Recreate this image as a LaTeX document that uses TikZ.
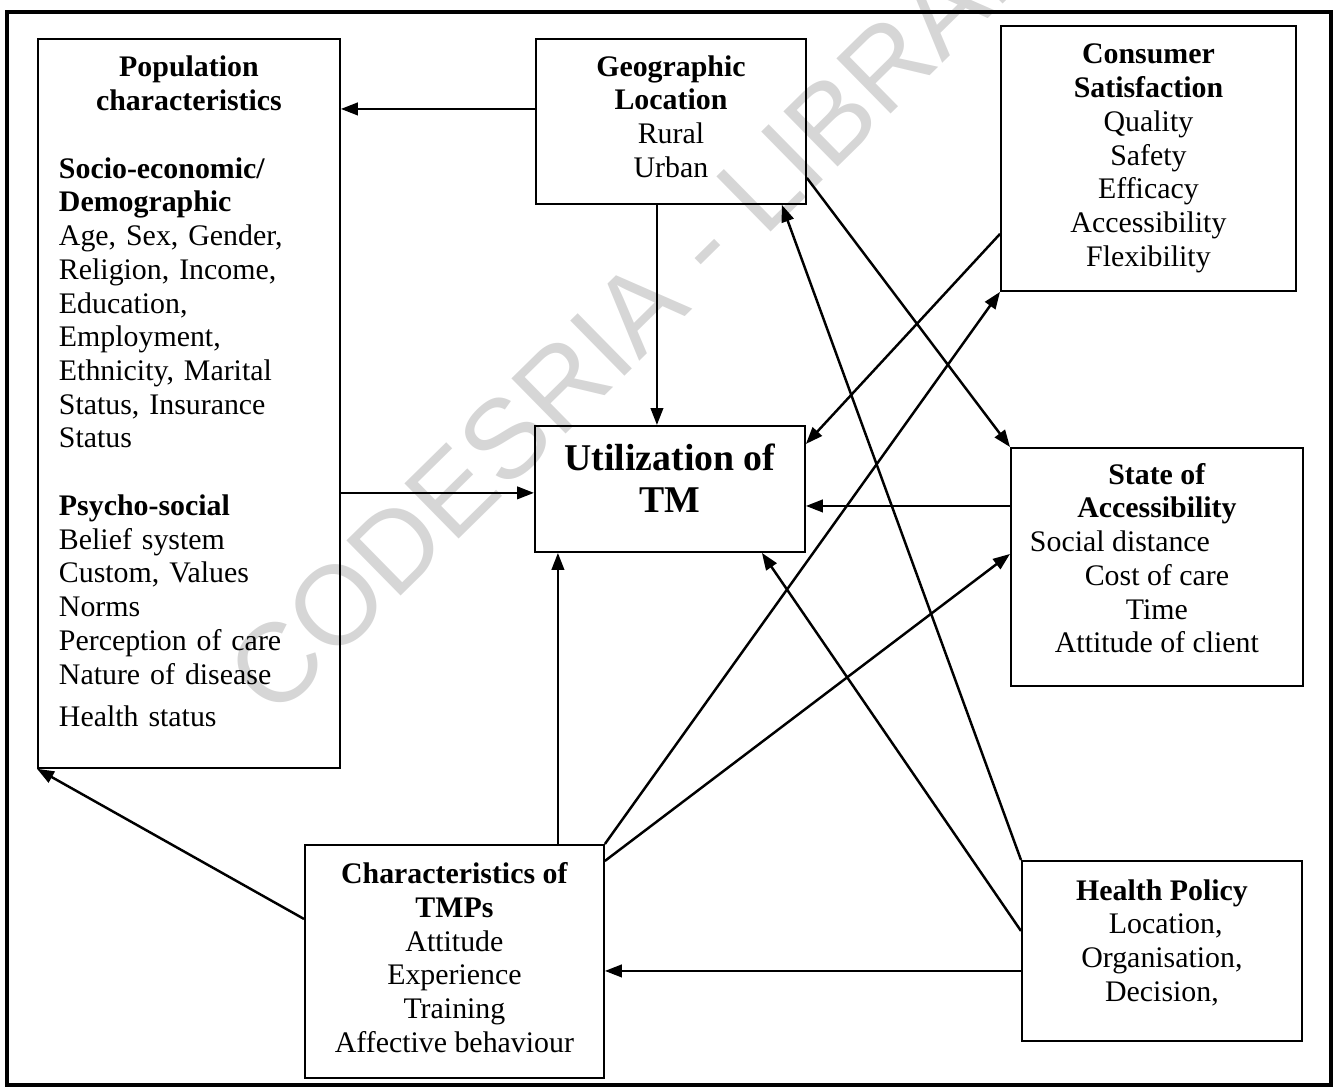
\documentclass[tikz,border=0pt]{standalone}
\usepackage{fontspec}
\setmainfont{Liberation Serif}
\newfontfamily\wmfont{Liberation Sans}
\usetikzlibrary{arrows.meta,calc}

% 最后一行下面的空白
\newcommand{\dpad}[1]{\rule[-#1]{0pt}{#1}}

\tikzset{
  cbox/.style={draw, line width=1.1pt, inner sep=0pt, anchor=north west,
    align=center, font=\fontsize{17}{19.2}\selectfont},
  link/.style={line width=1.4pt, -{Triangle[length=0.34cm,width=0.25cm]}}
}

\begin{document}
\begin{tikzpicture}[x=0.02cm, y=-0.02cm]
       \useasboundingbox (0,0) rectangle (1340,1088);
       % 水印
       \begin{scope}
         \clip (0,0) rectangle (1340,1088);
         \node (mark) [rotate=44.5, text=black!16, font=\wmfont\fontsize{64}{64}\selectfont]
           at (663,284) {CODESRIA - LIBRARY};
       \end{scope}
       % 外框
       \draw [line width=2.6pt] (7,12) rectangle (1331,1085);

       % 七个方框
       \node (pop) [cbox, align=left, text width=5.2cm, inner xsep=0.42cm,
         minimum width=6.04cm, minimum height=14.58cm] at (37,38)
         {\makebox[\hsize]{\bfseries Population}\\
          \makebox[\hsize]{\bfseries characteristics}\\[19.2pt]
          \textbf{Socio-economic/}\\
          \textbf{Demographic}\\
          Age, Sex, Gender,\\
          Religion, Income,\\
          Education,\\
          Employment,\\
          Ethnicity, Marital\\
          Status, Insurance\\
          Status\\[19.2pt]
          \textbf{Psycho-social}\\
          Belief system\\
          Custom, Values\\
          Norms\\
          Perception of care\\
          Nature of disease\\[5pt]
          Health status\dpad{0.48cm}};
       \node (geo) [cbox, minimum width=5.4cm, minimum height=3.3cm] at (535,38)
         {\textbf{Geographic}\\ \textbf{Location}\\ Rural\\ Urban\dpad{0.2cm}};
       \node (cons) [cbox, minimum width=5.9cm, minimum height=5.3cm] at (1000,25)
         {\textbf{Consumer}\\ \textbf{Satisfaction}\\ Quality\\ Safety\\ Efficacy\\
          Accessibility\\ Flexibility};
       \node (util) [cbox, minimum width=5.4cm, minimum height=2.52cm,
         font=\bfseries\fontsize{21.5}{24}\selectfont] at (534,425)
         {Utilization of\\ TM\dpad{0.44cm}};
       \node (acc) [cbox, minimum width=5.84cm, minimum height=4.76cm] at (1010,447)
         {\textbf{State of}\\ \textbf{Accessibility}\\ \mbox{Social distance\hspace{1.48cm}}\\
          Cost of care\\ Time\\ Attitude of client\dpad{0.36cm}};
       \node (tmp) [cbox, minimum width=5.98cm, minimum height=4.66cm] at (304,844)
         {\textbf{Characteristics of}\\ \textbf{TMPs}\\ Attitude\\ Experience\\
          Training\\ Affective behaviour\dpad{0.16cm}};
       \node (pol) [cbox, minimum width=5.6cm, minimum height=3.6cm] at (1021,860)
         {\textbf{Health Policy}\\ \hspace{0.15cm}Location,\\ Organisation,\\ Decision,\dpad{0.42cm}};

       % 箭头
       \draw [link] ([yshift=0.25cm]geo.west) -- ([yshift=0.25cm]geo.west -| pop.east);
       \draw [link] ([xshift=-0.28cm]geo.south) -- ([xshift=-0.28cm]geo.south |- util.north);
       \draw [link] ([yshift=-1.13cm]geo.east) -- (acc.north west);
       \draw [link] ([yshift=-1.51cm]cons.west) -- ([yshift=0.9cm]util.east);
       \draw [link] ([yshift=1.22cm]acc.west) -- ([yshift=1.22cm]acc.west -| util.east);
       \draw [link] ([yshift=-1.79cm]pop.east) -- ([yshift=-1.79cm]pop.east -| util.west);
       % 从TMPs出发
       \draw [link] ([xshift=2.07cm]tmp.north) -- ([xshift=2.07cm]tmp.north |- util.south);
       \draw [link] ([yshift=0.85cm]tmp.west) -- (pop.south west);
       \draw [link] (tmp.north east) -- (cons.south west);
       \draw [link] ([yshift=2.01cm]tmp.east) -- ([yshift=0.26cm]acc.west);
       % 从Health Policy出发
       \draw [link] ([yshift=-0.4cm]pol.west) -- ([yshift=-0.4cm]pol.west -| tmp.east);
       \draw [link] (pol.north west) -- ([xshift=2.22cm]geo.south);
       \draw [link] ([yshift=0.4cm]pol.west) -- ([xshift=1.84cm]util.south);
\end{tikzpicture}
\end{document}
